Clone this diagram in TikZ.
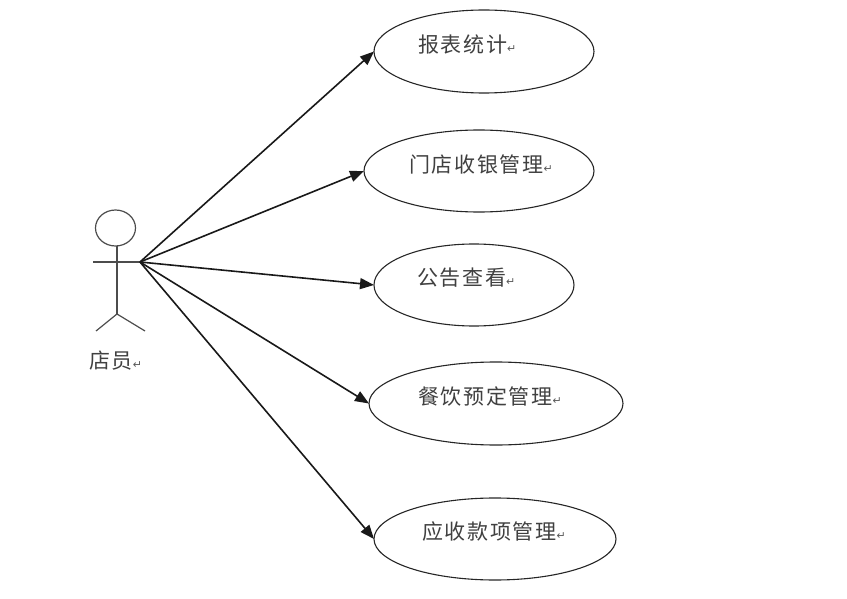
\documentclass[tikz,border=0pt]{standalone}
\usepackage{fontspec}
\usetikzlibrary{arrows.meta,shapes.geometric}
\newfontfamily\cjk[LetterSpace=8]{Noto Sans CJK SC}
\newfontfamily\retfont{DejaVu Sans}
\newcommand{\retmark}{{\retfont\fontsize{11}{11}\selectfont\textcolor{black!65}{↵}}}
\tikzset{
  x=1pt,y=-1pt,
  usecase/.style={draw=black!85,line width=1.1pt,ellipse,inner sep=0pt,outer sep=0pt,minimum width=#1},
  label text/.style={anchor=west,inner sep=0pt,text=black!75,font=\cjk\fontsize{21}{23}\selectfont},
  link/.style={draw=black!90,line width=1.6pt,-{Triangle[length=14pt,width=11pt]}},
  stick/.style={draw=black!70,line width=1.2pt},
}
\begin{document}
\begin{tikzpicture}
\useasboundingbox (0,0) rectangle (847,599);
\node[usecase=220pt,minimum height=83pt] (u1) at (484,51.5) {};
\node[usecase=230pt,minimum height=82pt] (u2) at (479,171) {};
\node[usecase=200pt,minimum height=82pt] (u3) at (474,285) {};
\node[usecase=254pt,minimum height=83pt] (u4) at (496,403.5) {};
\node[usecase=242pt,minimum height=82pt] (u5) at (495,539) {};
\node[label text] (t1) at (418,45) {报表统计\retmark};
\node[label text] (t2) at (409,164) {门店收银管理\retmark};
\node[label text] (t3) at (417,278) {公告查看\retmark};
\node[label text] (t4) at (418,397) {餐饮预定管理\retmark};
\node[label text] (t5) at (422,532) {应收款项管理\retmark};
\node[label text] (t0) at (89,361) {店员\retmark};
\node[draw=black!70,line width=1.2pt,ellipse,inner sep=0pt,minimum width=40pt,minimum height=36pt] (head) at (115.5,228) {};
\coordinate (armL) at (93,262);
\coordinate (hub) at (140,262);
\coordinate (hip) at (117,314);
\coordinate (legL) at (96,331);
\coordinate (legR) at (145,331);
\coordinate (neck) at (117,246);
\draw[stick] (neck) -- (hip);
\draw[stick] (armL) -- (hub);
\draw[stick] (legL) -- (hip) -- (legR);
\draw[link] (hub) -- (u1.west);
\draw[link] (hub) -- (u2.west);
\draw[link] (hub) -- (u3.west);
\draw[link] (hub) -- (u4.west);
\draw[link] (hub) -- (u5.west);
\end{tikzpicture}
\end{document}
